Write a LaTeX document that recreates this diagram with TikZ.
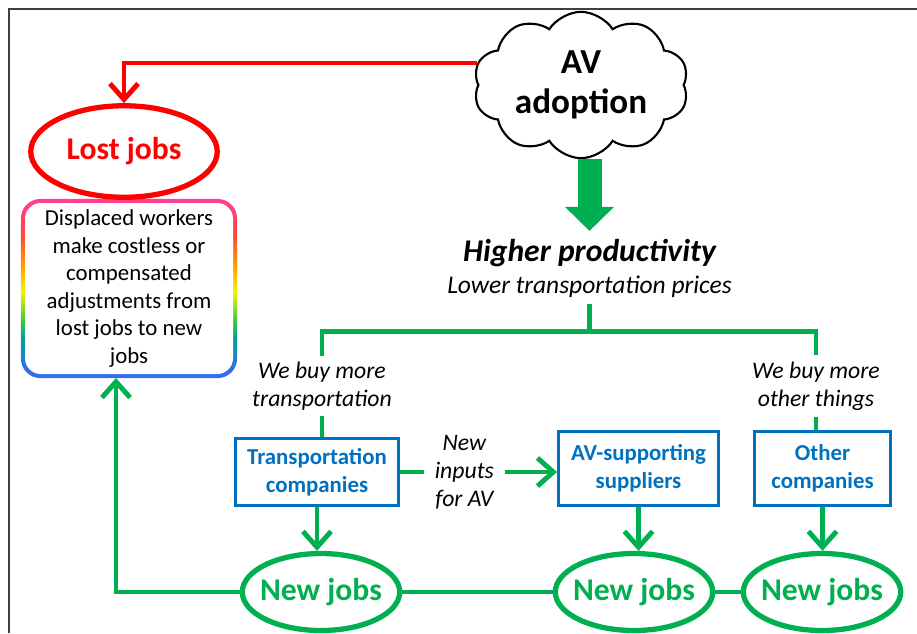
\documentclass[tikz,border=0pt]{standalone}
\usepackage{fontspec}
\setmainfont{Carlito}
\usetikzlibrary{arrows.meta,calc,shapes.geometric,shapes.symbols,backgrounds}

\definecolor{avred}{RGB}{255,0,0}
\definecolor{avgreen}{RGB}{0,176,80}
\definecolor{avblue}{RGB}{0,112,192}
\definecolor{rbpink}{RGB}{255,64,150}
\definecolor{rbred}{RGB}{255,70,60}
\definecolor{rborange}{RGB}{255,150,0}
\definecolor{rbyellow}{RGB}{250,240,0}
\definecolor{rbgreen}{RGB}{60,200,60}
\definecolor{rbteal}{RGB}{0,160,150}
\definecolor{rbblue}{RGB}{50,110,240}

\pgfdeclareverticalshading{rainbowedge}{100bp}{color(0bp)=(rbblue); color(27bp)=(rbblue); color(36bp)=(rbteal); color(41bp)=(rbgreen); color(49bp)=(rbyellow); color(57bp)=(rborange); color(65bp)=(rbred); color(75bp)=(rbpink); color(100bp)=(rbpink)}

\tikzset{
	framestyle/.style={draw=black!75, line width=0.8pt},
	jobsoval/.style={ellipse, draw=avgreen, line width=3pt, text=avgreen, inner xsep=-3pt, inner ysep=0pt, font=\fontsize{18}{21}\selectfont\bfseries},
	lostoval/.style={ellipse, draw=avred, line width=3pt, text=avred, inner sep=0pt, font=\fontsize{18}{21}\selectfont\bfseries},
	firmbox/.style={draw=avblue, line width=1.7pt, text=avblue, align=center, font=\fontsize{13}{16}\selectfont\bfseries},
	adjbox/.style={fill=white, rounded corners=9pt, outer sep=2.3pt, align=center, font=\fontsize{13}{15.6}\selectfont},
	note/.style={align=center, font=\fontsize{13.5}{16}\selectfont\itshape},
	greenline/.style={draw=avgreen, line width=2.8pt},
	greenarrow/.style={greenline, -{Straight Barb[length=9pt,width=16pt]}},
	redarrow/.style={draw=avred, line width=2.8pt, -{Straight Barb[length=9pt,width=16pt]}},
	blockarrow/.style={draw=avgreen, line width=0.48cm, -{Triangle[length=0.48cm,width=0.98cm,line width=0pt]}}
}

\begin{document}
\begin{tikzpicture}
			%%%%% START %%%%%
			
			\useasboundingbox (0,0) rectangle (18.34,-12.66);
			\draw[framestyle] (0.18,-12.66) -- (0.18,-0.18) -- (18.34,-0.18);
			
			\node[cloud, cloud puffs=10, cloud puff arc=115, aspect=1.55, draw, line width=1.2pt, minimum width=4.3cm, minimum height=2.9cm, inner sep=0pt, align=center, font=\fontsize{20}{23}\selectfont\bfseries] (cloud) at (11.62,-1.7) {AV\\adoption};
			
			\node[lostoval, minimum width=3.73cm, minimum height=1.83cm] (lost) at (2.48,-3.03) {Lost jobs};
			\node[adjbox, minimum width=4.16cm, minimum height=3.42cm] (adjust) at (2.58,-5.77) {Displaced workers\\make costless or\\compensated\\adjustments from\\lost jobs to new\\jobs};
			\begin{scope}[on background layer]
				\shade[shading=rainbowedge, rounded corners=11pt] (adjust.north west) rectangle (adjust.south east);
			\end{scope}
			
			\node[inner sep=0pt, font=\fontsize{18}{21}\selectfont\bfseries\itshape] (higher) at (11.79,-5.06) {Higher productivity};
			\node[note, font=\fontsize{14.5}{16}\selectfont\itshape] (lower) at (11.79,-5.74) {Lower transportation prices};
			
			\node[note] (buytrans) at (6.44,-7.72) {We buy more\\transportation};
			\node[note] (buyother) at (16.32,-7.72) {We buy more\\other things};
			
			\node[firmbox, minimum width=3.26cm, minimum height=1.34cm] (trans) at (6.34,-9.44) {Transportation\\companies};
			\node[firmbox, minimum width=3.2cm, minimum height=1.48cm] (avsup) at (12.77,-9.37) {AV-supporting\\suppliers};
			\node[firmbox, minimum width=2.72cm, minimum height=1.48cm] (other) at (16.45,-9.37) {Other\\companies};
			
			\node[jobsoval, minimum width=3.1cm, minimum height=1.54cm] (newjobsA) at (6.42,-11.84) {New jobs};
			\node[jobsoval, minimum width=3.06cm, minimum height=1.54cm] (newjobsB) at (12.68,-11.84) {New jobs};
			\node[jobsoval, minimum width=3.1cm, minimum height=1.54cm] (newjobsC) at (16.44,-11.84) {New jobs};
			
			\draw[redarrow] (cloud.168) -| (lost.north);
			\draw[blockarrow] (cloud.south -| higher.north) -- ([yshift=0.16cm]higher.north);
			
			\draw[greenline] (lower.south) -- ++(0,-0.55) coordinate (fork);
			\draw[greenline] (fork) -| (buytrans.north);
			\draw[greenline] (fork) -| (buyother.north);
			\draw[greenline] (buytrans.south) -- (buytrans.south |- trans.north);
			\draw[greenline] (buyother.south) -- (buyother.south |- other.north);
			
			\draw[greenarrow] (trans.east) -- node[note, fill=white, pos=0.41, inner xsep=6pt] (inputs) {New\\inputs\\for AV} (trans.east -| avsup.west);
			
			\draw[greenarrow] (trans.south) -- (trans.south |- newjobsA.north);
			\draw[greenarrow] (avsup.south) -- (avsup.south |- newjobsB.north);
			\draw[greenarrow] (other.south) -- (other.south |- newjobsC.north);
			
			\draw[greenline] (newjobsA.east) -- (newjobsB.west);
			\draw[greenline] (newjobsB.east) -- (newjobsC.west);
			\draw[greenarrow] (newjobsA.west) -| ([xshift=-0.26cm]adjust.south);
			
			%%%%% END %%%%%
\end{tikzpicture}
\end{document}
